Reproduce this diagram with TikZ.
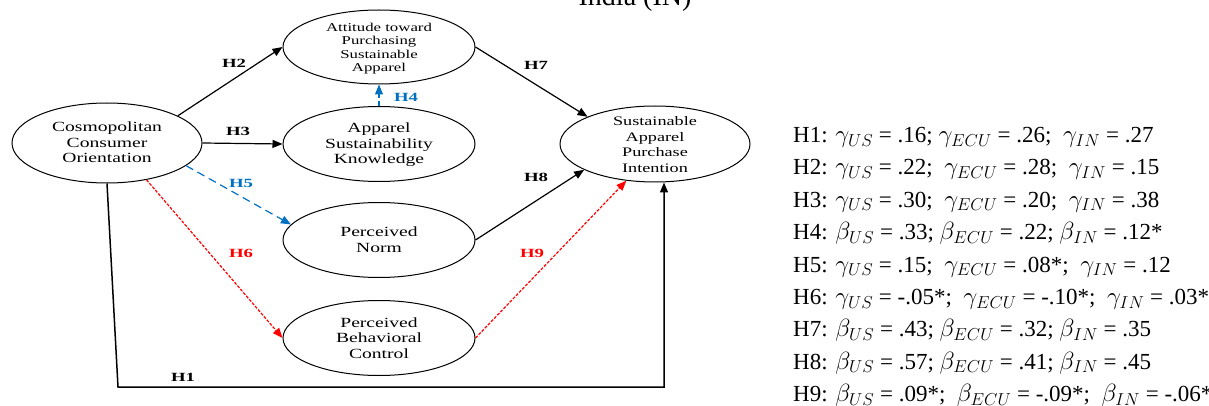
\documentclass[tikz,border=0pt]{standalone}
\usepackage{fontspec}
\setmainfont{Liberation Serif}
\newfontfamily\diagfont[FakeStretch=1.4]{Liberation Serif}
\newfontfamily\tagfont[FakeStretch=1.5]{Liberation Serif}
\usetikzlibrary{positioning,arrows.meta,calc,shapes.geometric}
\definecolor{hblue}{RGB}{0,112,192}
\newcommand{\lines}[1]{\smash{\raisebox{-5pt}{\begin{tabular}{@{}c@{}}#1\end{tabular}}}}
\tikzset{
  construct/.style={draw,ellipse,line width=1pt,minimum width=192pt,minimum height=75pt,inner sep=0pt,font=\diagfont\fontsize{14}{15.5}\selectfont},
  link/.style={line width=1.2pt,-{Triangle[length=10pt,width=8pt]}},
  tag/.style={font=\tagfont\bfseries\fontsize{12.5}{12.5}\selectfont},
}

\begin{document}
\begin{tikzpicture}[x=1pt,y=-1pt]
  \useasboundingbox (0,0) rectangle (1209,406);
  \node[anchor=base,font=\fontsize{28}{28}\selectfont] (title) at (635,6) {India (IN)};
  % constructs
  \node[construct,minimum width=190pt,minimum height=80pt] (cco) at (107,143) {\lines{Cosmopolitan\\Consumer\\Orientation}};
  \node[construct,minimum height=74pt,font=\diagfont\fontsize{12}{13.4}\selectfont] (attitude) at (379,47) {\lines{Attitude toward\\Purchasing\\Sustainable\\Apparel}};
  \node[construct] (knowledge) at (379,144) {\lines{Apparel\\Sustainability\\Knowledge}};
  \node[construct] (norm) at (379,240) {\lines{Perceived\\Norm}};
  \node[construct] (control) at (379,338) {\lines{Perceived\\Behavioral\\Control}};
  \node[construct,minimum width=190pt,minimum height=76pt,font=\diagfont\fontsize{13}{15.5}\selectfont] (intention) at (655,144) {\lines{Sustainable\\Apparel\\Purchase\\Intention}};
  % paths
  \coordinate (h1turn) at (118,387);
  \draw[link,line width=1.5pt] (cco.south) -- (h1turn) -| ([xshift=9pt]intention.south);
  \draw[link] (cco.21) -- (attitude.west);
  \draw[link] (cco.east) -- (knowledge.west);
  \draw[link,hblue,dash pattern=on 5pt off 3pt] (knowledge.north) -- (attitude.south);
  \draw[link,hblue,dash pattern=on 8pt off 5pt] (cco.-16) -- (norm.170);
  \draw[link,red,dash pattern=on 3pt off 1.5pt] (cco.-43) -- (control.west);
  \draw[link] (attitude.east) -- (intention.158);
  \draw[link] (norm.east) -- (intention.200);
  \draw[link,red,dash pattern=on 3pt off 1.5pt] (control.east) -- (intention.232);
  % hypothesis tags
  \node[tag] (lH1) at (183,377) {H1};
  \node[tag] (lH2) at (234,63) {H2};
  \node[tag] (lH3) at (238,131) {H3};
  \node[tag,hblue] (lH4) at (406,97) {H4};
  \node[tag,hblue] (lH5) at (241,183) {H5};
  \node[tag,red] (lH6) at (241,253) {H6};
  \node[tag] (lH7) at (536,65) {H7};
  \node[tag] (lH8) at (536,177) {H8};
  \node[tag,red] (lH9) at (532,253) {H9};
  % coefficients
  \node[anchor=north west,inner sep=0pt,align=left,font=\fontsize{23}{32.4}\selectfont] (stats) at (793,127) {%
    H1: $\gamma_{US}$ = .16; $\gamma_{ECU}$ = .26;\ \ $\gamma_{IN}$ = .27\\
    H2: $\gamma_{US}$ = .22;\ \ $\gamma_{ECU}$ = .28;\ \ $\gamma_{IN}$ = .15\\
    H3: $\gamma_{US}$ = .30;\ \ $\gamma_{ECU}$ = .20;\ \ $\gamma_{IN}$ = .38\\
    H4: $\beta_{US}$ = .33; $\beta_{ECU}$ = .22; $\beta_{IN}$ = .12*\\
    H5: $\gamma_{US}$ = .15;\ \ $\gamma_{ECU}$ = .08*;\ \ $\gamma_{IN}$ = .12\\
    H6: $\gamma_{US}$ = -.05*;\ \ $\gamma_{ECU}$ = -.10*;\ \ $\gamma_{IN}$ = .03*\\
    H7: $\beta_{US}$ = .43; $\beta_{ECU}$ = .32; $\beta_{IN}$ = .35\\
    H8: $\beta_{US}$ = .57; $\beta_{ECU}$ = .41; $\beta_{IN}$ = .45\\
    H9: $\beta_{US}$ = .09*;\ \ $\beta_{ECU}$ = -.09*;\ \ $\beta_{IN}$ = -.06*};
\end{tikzpicture}
\end{document}
